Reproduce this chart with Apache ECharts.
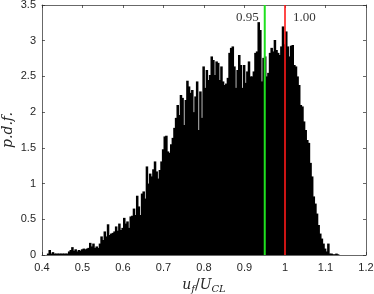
<!DOCTYPE html>
<html>
<head>
<meta charset="utf-8">
<script src="https://cdn.jsdelivr.net/npm/echarts@6/dist/echarts.min.js"></script>
<style>html,body{margin:0;padding:0;background:#fff}#c{width:374px;height:294px}</style>
</head>
<body>
<div id="c"></div>
<script>
// Histogram: bin width and first bin centre
const binWidth = 0.004;
const firstBinCenter = 0.410;
// p.d.f. value of each bin
const pdfValues = [
0.00,0.02,0.07,0.02,0.04,0.02,0.02,0.02,0.02,0.02,
0.02,0.02,0.02,0.02,0.05,0.07,0.11,0.06,0.08,0.05,
0.07,0.06,0.08,0.09,0.08,0.09,0.10,0.17,0.12,0.16,
0.10,0.12,0.10,0.16,0.26,0.21,0.33,0.26,0.43,0.28,
0.30,0.31,0.33,0.40,0.34,0.44,0.35,0.38,0.52,0.44,
0.47,0.38,0.54,0.55,0.65,0.56,0.83,0.68,0.56,0.86,
0.89,0.79,1.24,1.00,1.14,1.10,1.20,1.31,1.17,1.07,
1.19,1.31,1.48,1.66,1.67,1.45,1.43,1.55,1.64,1.78,
1.92,2.10,1.96,2.24,2.20,1.82,2.17,2.44,2.36,2.27,
2.31,2.00,2.22,2.43,1.75,2.29,1.92,2.64,2.34,2.59,
2.45,2.52,2.78,2.73,2.52,2.71,2.69,2.45,2.64,2.43,
2.38,2.40,2.48,2.83,2.90,2.92,2.64,2.34,2.59,2.80,
2.66,2.34,2.66,2.41,2.57,2.71,2.50,2.50,2.57,2.83,
2.85,3.26,3.15,2.43,2.76,2.78,2.50,2.55,2.83,2.90,
2.85,3.01,2.87,2.83,2.80,2.92,3.20,2.95,3.13,2.92,
2.78,2.93,2.94,2.66,2.64,2.50,2.38,2.10,2.08,1.87,
1.75,1.61,1.57,1.29,1.10,0.82,0.72,0.58,0.42,0.30,
0.23,0.16,0.09,0.05,0.16,0.02,0.02,0.01,0.01,0.02,
0.01,0.00
];
// reference lines
const refLineX = [0.95, 1.00];
const refLineColors = ['#1fe01f', '#ff1a1a'];
const refLabels = ['0.95', '1.00'];
const refLabelX = [0.907, 1.048];
const refLabelY = 3.33;
// axis ticks
const xTicks = [0.4, 0.5, 0.6, 0.7, 0.8, 0.9, 1.0, 1.1, 1.2];
const yTicks = [0, 0.5, 1, 1.5, 2, 2.5, 3, 3.5];

const histData = pdfValues.map((v, i) => [firstBinCenter + i * binWidth, v]);

const axisColor = '#262626';
const tickFont = { color: axisColor, fontSize: 11, fontFamily: 'Liberation Sans, Arial, sans-serif' };
const fmt = v => String(Math.round(v * 10) / 10);
const serif = 'Liberation Serif, DejaVu Serif, serif';
const serifIt = 'DejaVu Serif, Liberation Serif, serif';

const chart = echarts.init(document.getElementById('c'), null, { renderer: 'canvas' });
chart.setOption({
  animation: false,
  backgroundColor: '#fff',
  grid: { left: 42, right: 8, top: 5, bottom: 39, containLabel: false, outerBoundsMode: 'none' },
  xAxis: [{
    type: 'value', min: 0.4, max: 1.2, interval: 0.1,
    axisLine: { show: true, onZero: false, lineStyle: { color: axisColor, width: 0.7 } },
    axisTick: { show: true, inside: true, length: 3, lineStyle: { color: axisColor, width: 0.7 } },
    axisLabel: Object.assign({ margin: 7, formatter: fmt }, tickFont),
    splitLine: { show: false },
    name: '{i|u}{s|f}{n|/}{i|U}{s|CL}',
    nameLocation: 'middle', nameGap: 22, nameMoveOverlap: false,
    nameTextStyle: {
      verticalAlign: 'top',
      rich: {
        i: { fontFamily: serifIt, fontStyle: 'italic', fontSize: 14, color: '#262626' },
        n: { fontFamily: serifIt, fontSize: 14, color: '#262626' },
        s: { fontFamily: serifIt, fontStyle: 'italic', fontSize: 10, color: '#262626', padding: [7, 0, 0, 0] }
      }
    }
  }, {
    type: 'value', min: 0.4, max: 1.2, interval: 0.1, position: 'top',
    axisLine: { show: true, onZero: false, lineStyle: { color: axisColor, width: 0.7 } },
    axisTick: { show: true, inside: true, length: 3, lineStyle: { color: axisColor, width: 0.7 } },
    axisLabel: { show: false }, splitLine: { show: false }
  }],
  yAxis: [{
    type: 'value', min: 0, max: 3.5, interval: 0.5,
    axisLine: { show: true, onZero: false, lineStyle: { color: axisColor, width: 0.7 } },
    axisTick: { show: true, inside: true, length: 3, lineStyle: { color: axisColor, width: 0.7 } },
    axisLabel: Object.assign({ margin: 6, formatter: fmt }, tickFont),
    splitLine: { show: false },
    name: 'p.d.f.', nameLocation: 'middle', nameGap: 27, nameRotate: 90, nameMoveOverlap: false,
    nameTextStyle: { fontFamily: serifIt, fontStyle: 'italic', fontSize: 14, color: '#262626' }
  }, {
    type: 'value', min: 0, max: 3.5, interval: 0.5, position: 'right',
    axisLine: { show: true, onZero: false, lineStyle: { color: axisColor, width: 0.7 } },
    axisTick: { show: true, inside: true, length: 3, lineStyle: { color: axisColor, width: 0.7 } },
    axisLabel: { show: false }, splitLine: { show: false }
  }],
  series: [{
    type: 'custom',
    xAxisIndex: 0, yAxisIndex: 0,
    data: histData,
    clip: true,
    renderItem: function (params, api) {
      const c = api.value(0), h = api.value(1);
      if (!(h > 0)) return null;
      const p0 = api.coord([c - binWidth / 2, h]);
      const p1 = api.coord([c + binWidth / 2, 0]);
      return {
        type: 'rect',
        shape: { x: p0[0], y: p0[1], width: p1[0] - p0[0] + 0.9, height: p1[1] - p0[1] },
        style: { fill: '#000' }
      };
    }
  }].concat(refLineX.map((x, i) => ({
    type: 'line', xAxisIndex: 0, yAxisIndex: 0,
    data: [[x, 0], [x, 3.5]], symbol: 'none',
    lineStyle: { color: refLineColors[i], width: i === 0 ? 2 : 1.6 },
    z: 5
  }))).concat([{
    type: 'scatter', xAxisIndex: 0, yAxisIndex: 0, symbolSize: 0,
    data: refLabels.map((t, i) => ({ value: [refLabelX[i], refLabelY], name: t })),
    label: { show: true, position: 'inside', formatter: p => p.name,
      fontFamily: serif, fontSize: 13, color: '#000' },
    z: 6
  }])
});
</script>
</body>
</html>
